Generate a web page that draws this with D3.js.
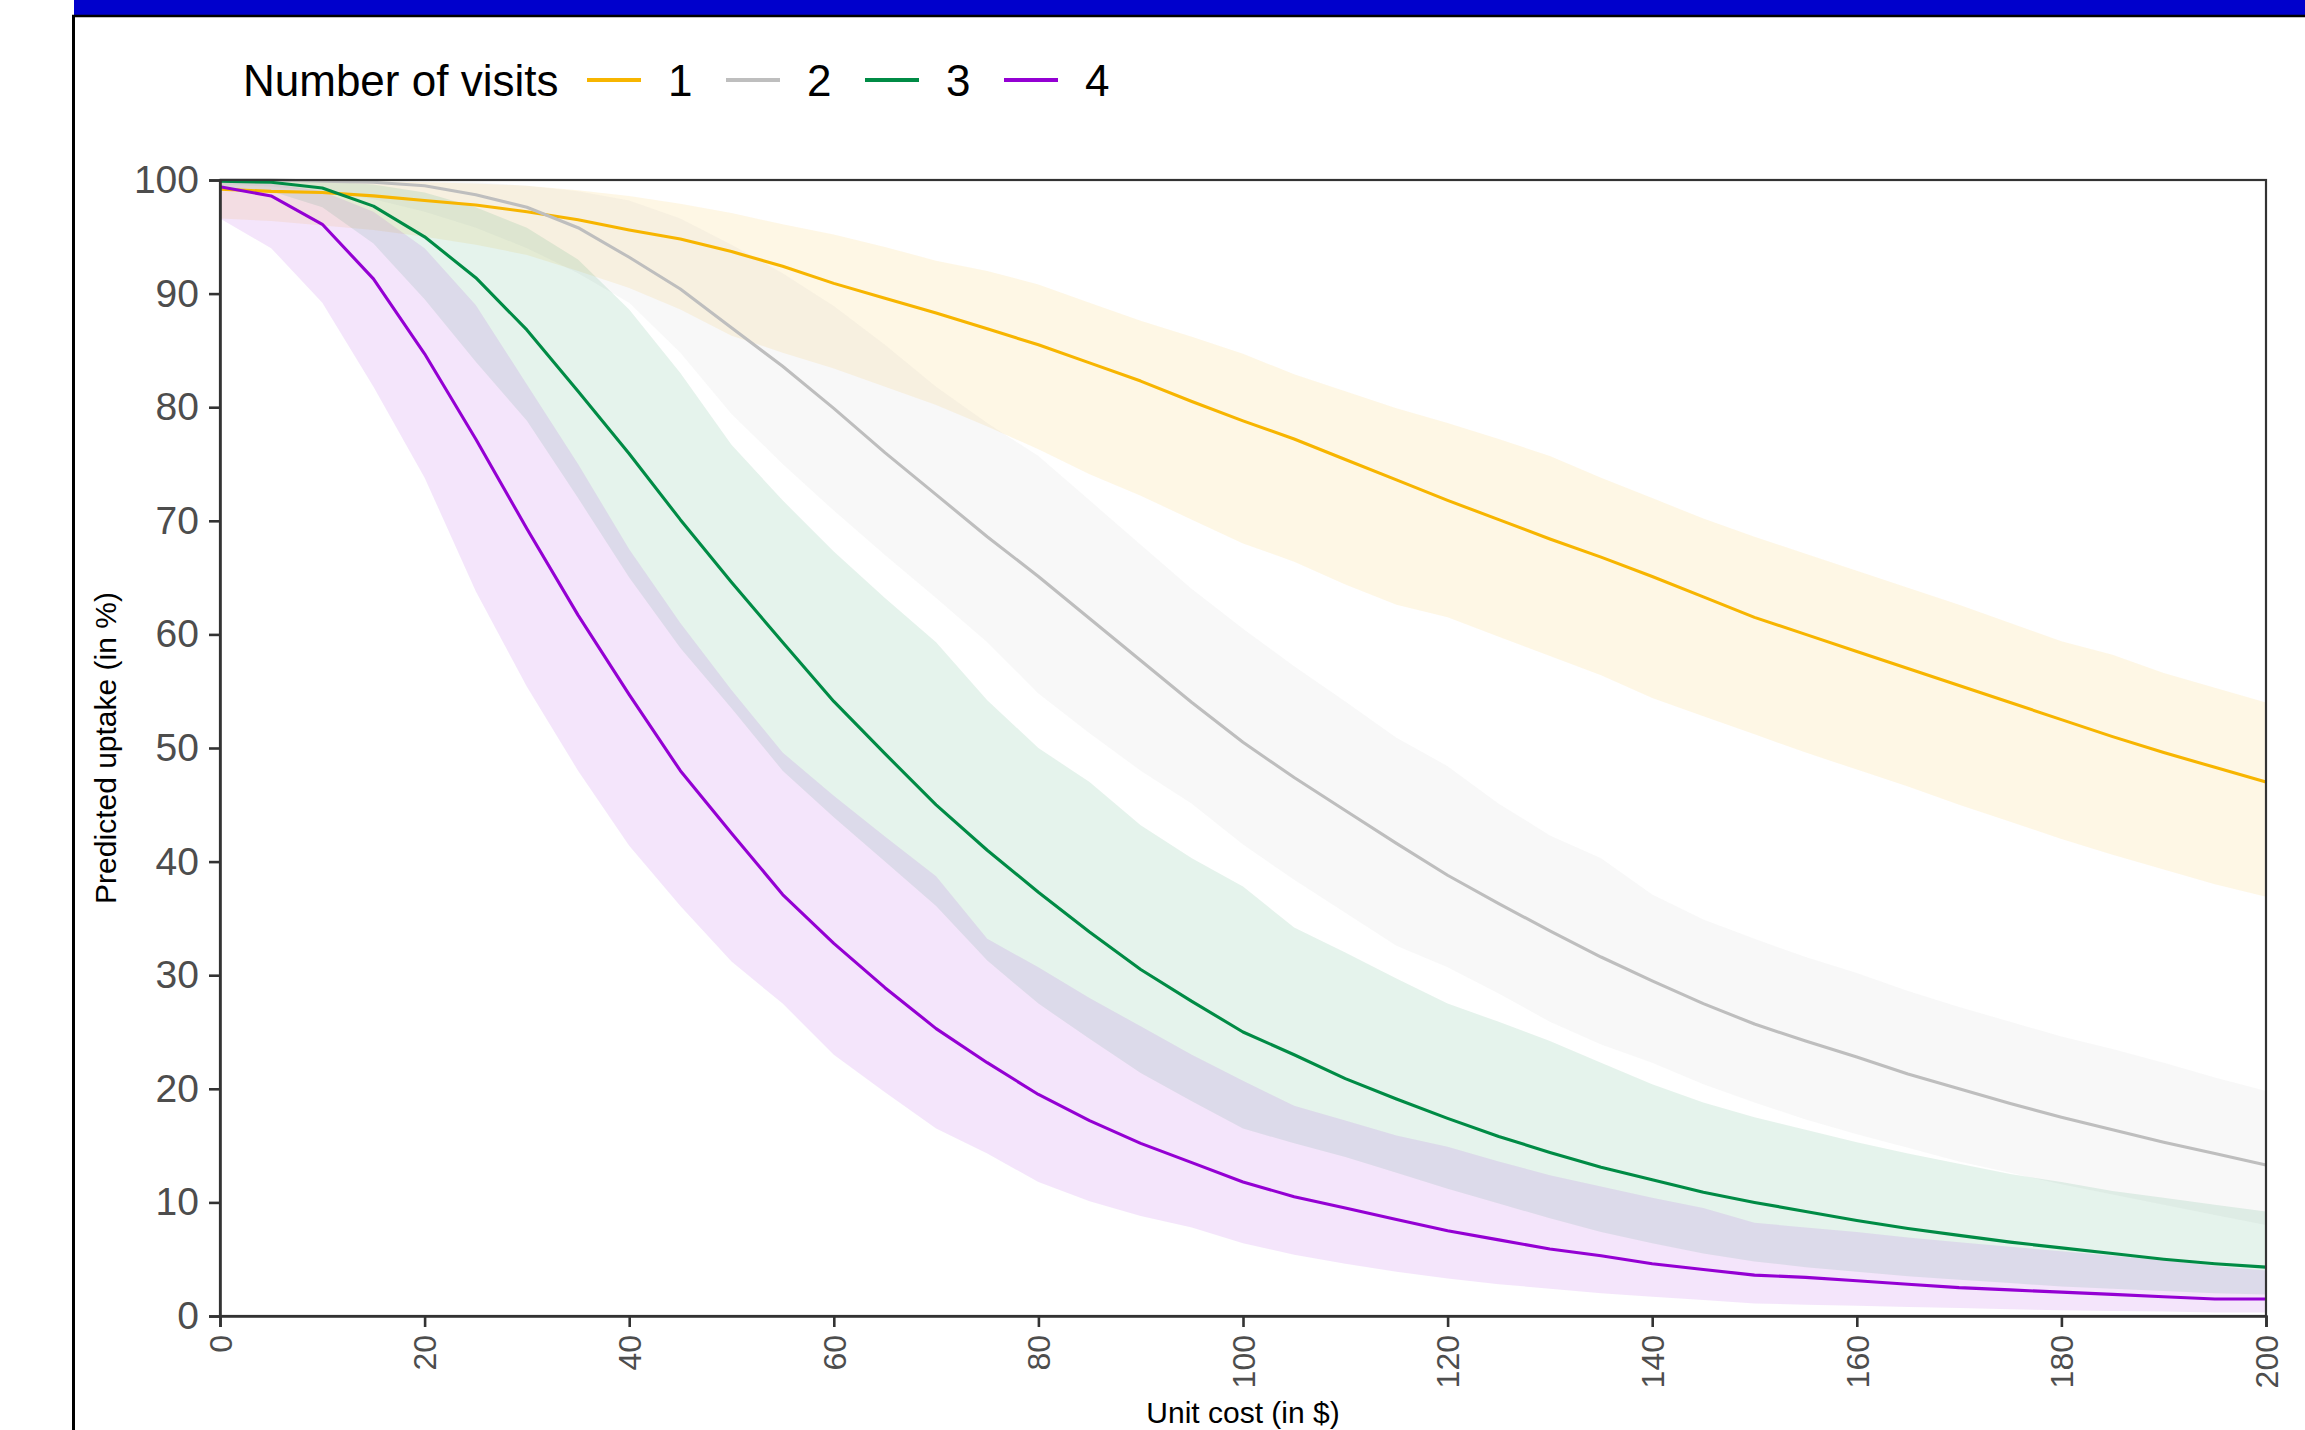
<!DOCTYPE html>
<html>
<head>
<meta charset="utf-8">
<script src="https://cdn.jsdelivr.net/npm/d3@7"></script>
<style>
  body { margin: 0; background: #fff; }
  svg { display: block; font-family: "Liberation Sans", Arial, sans-serif; }
</style>
</head>
<body>
<script>
const W = 2305, H = 1430;

// unit cost (in $)
const costs = [0, 5, 10, 15, 20, 25, 30, 35, 40, 45, 50, 55, 60, 65, 70, 75, 80, 85, 90, 95, 100,
  105, 110, 115, 120, 125, 130, 135, 140, 145, 150, 155, 160, 165, 170, 175, 180, 185, 190, 195, 200];

const visits = ['1', '2', '3', '4'];
const colors = ['#F7B500', '#BEBEBE', '#008B45', '#9400D3'];
const yTicks = [0, 10, 20, 30, 40, 50, 60, 70, 80, 90, 100];
const xTicks = [0, 20, 40, 60, 80, 100, 120, 140, 160, 180, 200];

// predicted uptake (%), one visit
const fit1 = [99.2, 99.0, 98.9, 98.6, 98.2, 97.8, 97.2, 96.5, 95.6, 94.8, 93.7, 92.4, 90.9, 89.6, 88.3, 86.9, 85.5, 83.9, 82.3, 80.5, 78.8,
  77.2, 75.4, 73.6, 71.8, 70.1, 68.4, 66.8, 65.1, 63.3, 61.5, 60.0, 58.5, 57.0, 55.5, 54.0, 52.5, 51.0, 49.6, 48.3, 47.0];
const lo1 = [96.6, 96.4, 96.0, 95.6, 95.0, 94.3, 93.4, 92.0, 90.5, 88.6, 86.3, 84.8, 83.4, 81.8, 80.2, 78.3, 76.3, 74.1, 72.2, 70.1, 68.0,
  66.4, 64.4, 62.6, 61.5, 59.8, 58.1, 56.4, 54.4, 52.8, 51.2, 49.6, 48.1, 46.6, 45.0, 43.5, 42.0, 40.6, 39.3, 38.0, 36.9];
const hi1 = [100, 100, 100, 99.9, 99.8, 99.7, 99.5, 99.1, 98.6, 97.9, 97.1, 96.1, 95.2, 94.1, 92.9, 92.0, 90.8, 89.2, 87.6, 86.2, 84.7,
  82.9, 81.4, 79.9, 78.6, 77.2, 75.7, 73.8, 72.0, 70.2, 68.6, 67.1, 65.6, 64.1, 62.6, 61.0, 59.4, 58.2, 56.6, 55.3, 54.0];

// two visits
const fit2 = [100, 100, 99.9, 99.8, 99.5, 98.7, 97.6, 95.8, 93.2, 90.4, 87.0, 83.6, 79.9, 76.0, 72.3, 68.6, 65.1, 61.4, 57.7, 54.0, 50.5,
  47.4, 44.5, 41.6, 38.8, 36.3, 33.9, 31.6, 29.5, 27.5, 25.7, 24.2, 22.8, 21.3, 20.0, 18.7, 17.5, 16.4, 15.3, 14.3, 13.3];
const lo2 = [99.6, 99.4, 99.0, 98.3, 97.2, 95.8, 94.0, 91.8, 89.2, 84.8, 79.4, 75.0, 70.9, 67.0, 63.2, 59.3, 54.8, 51.3, 48.0, 45.1, 41.5,
  38.4, 35.5, 32.6, 30.7, 28.4, 25.9, 23.9, 22.3, 20.4, 18.8, 17.3, 16.0, 14.8, 13.6, 12.6, 11.6, 10.7, 9.8, 8.9, 8.0];
const hi2 = [100, 100, 100, 100, 99.9, 99.8, 99.5, 99.0, 98.2, 96.6, 94.3, 91.8, 88.9, 85.5, 81.8, 78.6, 75.7, 71.8, 67.9, 64.0, 60.5,
  57.2, 54.1, 50.9, 48.4, 45.1, 42.3, 40.3, 37.1, 34.9, 33.2, 31.6, 30.2, 28.6, 27.2, 25.9, 24.6, 23.5, 22.3, 21.0, 19.8];

// three visits
const fit3 = [99.9, 99.8, 99.3, 97.7, 95.0, 91.4, 86.8, 81.4, 75.9, 70.1, 64.6, 59.3, 54.1, 49.5, 45.0, 41.0, 37.3, 33.8, 30.5, 27.7, 25.0,
  23.0, 20.9, 19.1, 17.4, 15.8, 14.4, 13.1, 12.0, 10.9, 10.0, 9.2, 8.4, 7.7, 7.1, 6.5, 6.0, 5.5, 5.0, 4.6, 4.3];
const lo3 = [99.3, 99.0, 97.6, 94.4, 89.5, 84.0, 78.8, 72.0, 65.0, 58.8, 53.5, 48.0, 43.9, 40.0, 36.1, 31.3, 27.5, 24.4, 21.4, 18.9, 16.5,
  15.2, 14.0, 12.6, 11.2, 9.9, 8.6, 7.4, 6.4, 5.5, 4.8, 4.3, 3.9, 3.5, 3.2, 2.9, 2.6, 2.4, 2.2, 2.0, 1.9];
const hi3 = [100, 100, 99.9, 99.6, 98.9, 97.6, 95.8, 93.0, 88.6, 83.0, 76.7, 71.8, 67.3, 63.2, 59.3, 54.2, 50.0, 47.0, 43.2, 40.3, 37.8,
  34.2, 32.0, 29.7, 27.5, 25.9, 24.2, 22.3, 20.4, 18.8, 17.5, 16.4, 15.3, 14.3, 13.4, 12.5, 11.8, 11.0, 10.4, 9.8, 9.2];

// four visits
const fit4 = [99.4, 98.6, 96.1, 91.3, 84.7, 77.2, 69.3, 61.7, 54.7, 48.0, 42.5, 37.1, 32.8, 28.9, 25.3, 22.3, 19.5, 17.2, 15.2, 13.5, 11.8,
  10.5, 9.5, 8.5, 7.5, 6.7, 5.9, 5.3, 4.6, 4.1, 3.6, 3.4, 3.1, 2.8, 2.5, 2.3, 2.1, 1.9, 1.7, 1.5, 1.5];
const lo4 = [96.6, 94.0, 89.2, 81.8, 73.8, 63.8, 55.4, 48.0, 41.4, 36.1, 31.2, 27.5, 23.0, 19.7, 16.5, 14.3, 11.8, 10.1, 8.8, 7.8, 6.4,
  5.4, 4.6, 3.9, 3.3, 2.8, 2.4, 2.0, 1.7, 1.4, 1.1, 1.0, 0.9, 0.8, 0.7, 0.6, 0.5, 0.45, 0.4, 0.3, 0.3];
const hi4 = [99.9, 99.7, 99.0, 97.2, 94.0, 89.0, 82.0, 75.0, 67.5, 61.0, 55.1, 49.6, 45.8, 42.2, 38.7, 33.2, 30.7, 28.0, 25.5, 23.0, 20.7,
  18.5, 17.2, 15.9, 14.9, 13.6, 12.4, 11.4, 10.4, 9.5, 8.2, 7.8, 7.4, 6.9, 6.5, 6.1, 5.7, 5.3, 4.9, 4.4, 4.0];

const fits = [fit1, fit2, fit3, fit4];
const los = [lo1, lo2, lo3, lo4];
const his = [hi1, hi2, hi3, hi4];

const series = visits.map((v, i) => ({
  key: v,
  color: colors[i],
  points: costs.map((c, j) => ({ cost: c, fit: fits[i][j], lo: los[i][j], hi: his[i][j] }))
}));

const plot = { left: 220, right: 2266, top: 180, bottom: 1316 };

const x = d3.scaleLinear().domain([0, 200]).range([plot.left, plot.right]);
const y = d3.scaleLinear().domain([0, 100]).range([plot.bottom, plot.top]);

const svg = d3.select('body').append('svg').attr('width', W).attr('height', H);

// page frame: blue banner and left rule
svg.append('rect').attr('x', 74).attr('y', 0).attr('width', W - 74).attr('height', 15).attr('fill', '#0000CC');
svg.append('line').attr('x1', 72).attr('x2', W).attr('y1', 16).attr('y2', 16).attr('stroke', '#000').attr('stroke-width', 2.5);
svg.append('line').attr('x1', 73.5).attr('x2', 73.5).attr('y1', 15).attr('y2', H).attr('stroke', '#000').attr('stroke-width', 3);

// ribbons
const area = d3.area().x(d => x(d.cost)).y0(d => y(d.lo)).y1(d => y(d.hi));
svg.append('g').selectAll('path').data(series).enter().append('path')
  .attr('d', d => area(d.points))
  .attr('fill', d => d.color)
  .attr('fill-opacity', 0.1);

// fitted lines
const line = d3.line().x(d => x(d.cost)).y(d => y(d.fit));
svg.append('g').selectAll('path').data(series).enter().append('path')
  .attr('d', d => line(d.points))
  .attr('fill', 'none')
  .attr('stroke', d => d.color)
  .attr('stroke-width', 3.1)
  .attr('stroke-linejoin', 'round');

// panel border
svg.append('rect')
  .attr('x', plot.left).attr('y', plot.top)
  .attr('width', plot.right - plot.left).attr('height', plot.bottom - plot.top)
  .attr('fill', 'none').attr('stroke', '#333').attr('stroke-width', 2.2);

// axes
const yAxis = svg.append('g').attr('transform', `translate(${plot.left},0)`)
  .call(d3.axisLeft(y).tickValues(yTicks).tickSize(11).tickPadding(10));
yAxis.selectAll('text').attr('font-size', 39).attr('fill', '#4D4D4D').attr('font-family', '"Liberation Sans", Arial, sans-serif');

const xAxis = svg.append('g').attr('transform', `translate(0,${plot.bottom})`)
  .call(d3.axisBottom(x).tickValues(xTicks).tickSize(11));
xAxis.selectAll('text')
  .attr('font-size', 32).attr('fill', '#4D4D4D').attr('font-family', '"Liberation Sans", Arial, sans-serif')
  .attr('text-anchor', 'end')
  .attr('x', 0).attr('y', 0).attr('dy', '0.35em')
  .attr('transform', 'translate(0,19) rotate(-90)');

[yAxis, xAxis].forEach(g => {
  g.select('.domain').attr('stroke', '#333').attr('stroke-width', 2.6);
  g.selectAll('.tick line').attr('stroke', '#333').attr('stroke-width', 2.6);
});

// axis titles
svg.append('text')
  .attr('x', (plot.left + plot.right) / 2).attr('y', 1423)
  .attr('text-anchor', 'middle').attr('font-size', 30).attr('fill', '#000')
  .text('Unit cost (in $)');

svg.append('text')
  .attr('transform', `translate(116,${(plot.top + plot.bottom) / 2}) rotate(-90)`)
  .attr('text-anchor', 'middle').attr('font-size', 30).attr('fill', '#000')
  .text('Predicted uptake (in %)');

// legend
const legend = svg.append('g');
legend.append('text').attr('x', 243).attr('y', 96).attr('font-size', 44).attr('fill', '#000').text('Number of visits');
const keyX = [587, 726, 865, 1004];
const items = legend.selectAll('g.item').data(series).enter().append('g').attr('class', 'item')
  .attr('transform', (d, i) => `translate(${keyX[i]},0)`);
items.append('line').attr('x1', 0).attr('x2', 54).attr('y1', 80).attr('y2', 80)
  .attr('stroke', d => d.color).attr('stroke-width', 4);
items.append('text').attr('x', 81).attr('y', 96).attr('font-size', 44).attr('fill', '#000').text(d => d.key);
</script>
</body>
</html>
